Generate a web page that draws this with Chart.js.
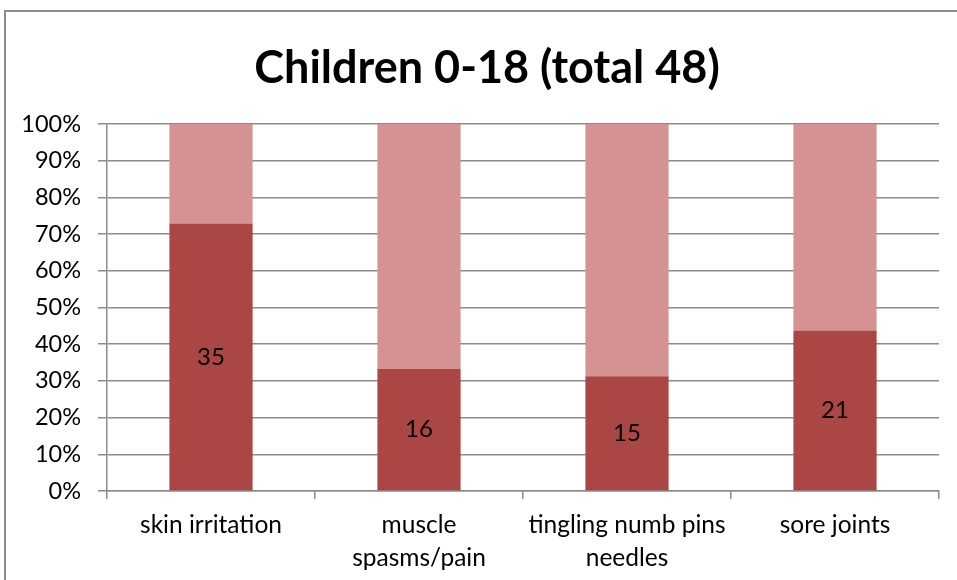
<!DOCTYPE html>
<html>
<head>
<meta charset="utf-8">
<title>Children 0-18</title>
<script src="https://cdn.jsdelivr.net/npm/chart.js@4.4.1/dist/chart.umd.min.js"></script>
<style>
    body { margin: 0; background: #fff; }
    #wrap { position: relative; width: 957px; height: 580px; overflow: hidden; }
    #frame {
        position: absolute; left: 4px; top: 10px; width: 2000px; height: 2000px;
        border-left: 2px solid #8c8c8c; border-top: 2px solid #8c8c8c;
    }
    #chart { position: absolute; left: 0; top: 0; }
</style>
</head>
<body>
<div id="wrap">
    <div id="frame"></div>
    <canvas id="chart" width="957" height="580"></canvas>
</div>
<script>
// symptom counts out of the group total
const titleText = 'Children 0-18 (total 48)';
const categories = [
    'skin irritation',
    ['muscle', 'spasms/pain'],
    ['tingling numb pins', 'needles'],
    'sore joints'
];
const total = 48;
const affected = [35, 16, 15, 21];
const notAffected = [13, 32, 33, 27];
const yTicks = [0, 10, 20, 30, 40, 50, 60, 70, 80, 90, 100];

const pct = arr => arr.map(v => v / total * 100);

const FONT = 'Lato, Carlito, Calibri, sans-serif';
const GRID = '#8c8c8c';

// heading centred over the frame rather than the plot box
const heading = {
    id: 'heading',
    afterDraw(chart) {
        const ctx = chart.ctx;
        ctx.save();
        ctx.font = 'bold 45px ' + FONT;
        ctx.fillStyle = '#000';
        ctx.textAlign = 'center';
        ctx.textBaseline = 'middle';
        ctx.fillText(titleText, 487, 68);
        ctx.restore();
    }
};

// writes the count in the middle of each dark segment
const countLabels = {
    id: 'countLabels',
    afterDatasetsDraw(chart) {
        const ctx = chart.ctx;
        const meta = chart.getDatasetMeta(0);
        ctx.save();
        ctx.font = '24px ' + FONT;
        ctx.fillStyle = '#000';
        ctx.textAlign = 'center';
        ctx.textBaseline = 'middle';
        meta.data.forEach((bar, i) => {
            const y = (bar.y + bar.base) / 2;
            ctx.fillText(String(affected[i]), bar.x, y);
        });
        ctx.restore();
    }
};

new Chart(document.getElementById('chart'), {
    type: 'bar',
    data: {
        labels: categories,
        datasets: [{
            label: 'yes',
            data: pct(affected),
            backgroundColor: '#aa4744',
            barPercentage: 0.4,
            categoryPercentage: 1
        }, {
            label: 'no',
            data: pct(notAffected),
            backgroundColor: '#d49392',
            barPercentage: 0.4,
            categoryPercentage: 1
        }]
    },
    options: {
        responsive: false,
        animation: false,
        layout: { padding: { left: 0, right: 18, top: 124, bottom: 0 } },
        plugins: {
            legend: { display: false },
            tooltip: { enabled: false },
            title: { display: false }
        },
        scales: {
            x: {
                stacked: true,
                afterFit(scale) { scale.height = 89; },
                grid: {
                    drawOnChartArea: false,
                    drawTicks: true,
                    tickLength: 8,
                    color: GRID,
                    lineWidth: 1.5
                },
                border: { color: GRID, width: 1.5 },
                ticks: {
                    color: '#000',
                    padding: 9,
                    maxRotation: 0,
                    autoSkip: false,
                    font: { family: FONT, size: 24.5, lineHeight: 1.36 }
                }
            },
            y: {
                stacked: true,
                min: 0,
                max: 100,
                afterFit(scale) { scale.width = 107; },
                afterBuildTicks(scale) { scale.ticks = yTicks.map(v => ({ value: v })); },
                grid: {
                    color: GRID,
                    lineWidth: 1.5,
                    tickLength: 9
                },
                border: { color: GRID, width: 1.5 },
                ticks: {
                    color: '#000',
                    padding: 17,
                    font: { family: FONT, size: 23.5 },
                    callback: v => v + '%'
                }
            }
        }
    },
    plugins: [countLabels, heading]
});
</script>
</body>
</html>
